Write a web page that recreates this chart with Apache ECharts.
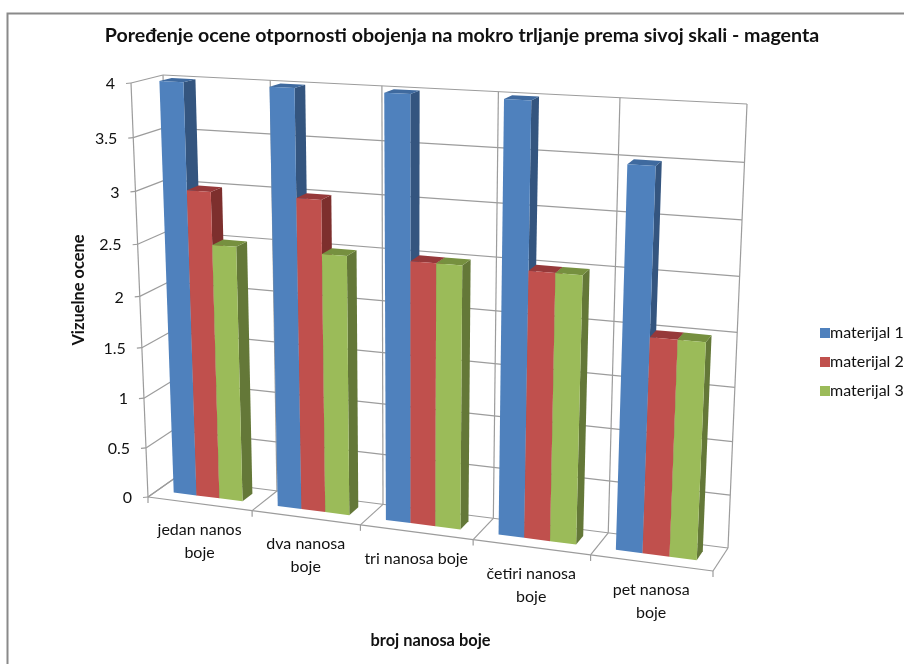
<!DOCTYPE html>
<html><head><meta charset="utf-8">
<script src="https://cdn.jsdelivr.net/npm/echarts@6/dist/echarts.min.js"></script>
<style>html,body{margin:0;padding:0;background:#fff}#c{width:904px;height:664px}</style></head>
<body><div id="c"></div>
<script>
const categories = ['jedan nanos\nboje','dva nanosa\nboje','tri nanosa boje','četiri nanosa\nboje','pet nanosa\nboje'];
const material1 = [4,4,4,4,3.5];
const material2 = [3,3,2.5,2.5,2];
const material3 = [2.5,2.5,2.5,2.5,2];
const valueTicks = [0,0.5,1,1.5,2,2.5,3,3.5,4];
const seriesNames = ['materijal 1','materijal 2','materijal 3'];

const FONT = 'Lato, "Open Sans", sans-serif';
const GRID = {left:148, top:83, width:565, height:414};
// perspective frame: corners of front and back planes [bottom-left,bottom-right,top-right,top-left]
const frontQuad = [[148,497],[713,571],[734,115],[131,83]];
const backQuad  = [[175,478],[728,548],[747,104],[163,75]];
const BAR_W0 = 0.35, BAR_W1 = 0.74, BAR_START = 0.16, BAR_STEP = 0.222;
const LINE = '#9c9c9c';
const palette = [
 {front:'#4f81bd',side:'#34557f',top:'#3f6a9f'},
 {front:'#c0504d',side:'#7d2f2d',top:'#96393a'},
 {front:'#9bbb59',side:'#647838',top:'#76903f'}];

function homography(q){
  const [x0,y0]=q[0],[x1,y1]=q[1],[x2,y2]=q[2],[x3,y3]=q[3];
  const dx1=x1-x2,dx2=x3-x2,sx=x0-x1+x2-x3,dy1=y1-y2,dy2=y3-y2,sy=y0-y1+y2-y3;
  const d=dx1*dy2-dx2*dy1;
  const g=(sx*dy2-dx2*sy)/d,h=(dx1*sy-sx*dy1)/d;
  const a=x1-x0+g*x1,b=x3-x0+h*x3,c=x0,e=y1-y0+g*y1,f=y3-y0+h*y3,i=y0;
  return (u,v)=>{const k=g*u+h*v+1;return [(a*u+b*v+c)/k,(e*u+f*v+i)/k];};
}
const Hf=homography(frontQuad),Hb=homography(backQuad);
function project(px,py,w){
  const u=(px-GRID.left)/GRID.width, v=(GRID.top+GRID.height-py)/GRID.height;
  const a=Hf(u,v),b=Hb(u,v);
  return [a[0]+(b[0]-a[0])*w,a[1]+(b[1]-a[1])*w];
}
const line=(p,q,width)=>({type:'line',shape:{x1:p[0],y1:p[1],x2:q[0],y2:q[1]},style:{stroke:LINE,lineWidth:width||1.2,fill:null},silent:true});
const poly=(pts,fill)=>({type:'polygon',shape:{points:pts},style:{fill:fill,stroke:null},silent:true});
const label=(x,y,text,align,vAlign)=>({type:'text',style:{x:x,y:y,text:text,fill:'#111',font:'16px '+FONT,align:align,verticalAlign:vAlign,lineHeight:23},silent:true});

function renderValueWall(params,api){
  const v=api.value(1);
  const L=api.coord([0,v]),R=api.coord([categories.length-1,v]);
  const band=api.size([1,0])[0];
  const xl=L[0]-band/2,xr=R[0]+band/2;
  const f=project(xl,L[1],0),b=project(xl,L[1],1),r=project(xr,L[1],1);
  return {type:'group',children:[
    line(f,b),line(b,r),
    line([f[0]-5,f[1]+0.5],f),
    label(f[0]-16,f[1]+1,String(v),'right','middle')
  ]};
}
function renderCatWall(params,api){
  const idx=api.value(0);
  const c=api.coord([idx,0]),t=api.coord([idx,4]);
  const band=api.size([1,0])[0];
  const kids=[];
  const edges=[c[0]-band/2];
  if(idx===categories.length-1) edges.push(c[0]+band/2);
  edges.forEach(x=>{
    const f=project(x,c[1],0),b=project(x,c[1],1),bt=project(x,t[1],1);
    kids.push(line(f,b),line(b,bt),line(f,[f[0],f[1]+6]));
    if(idx===0){const ft=project(x,t[1],0);kids.push(line(f,ft));}
  });
  const a=project(c[0]-band/2,c[1],0),e=project(c[0]+band/2,c[1],0);
  kids.push(line(a,e));
  const m=project(c[0],c[1],0);
  kids.push(label(m[0],m[1]+15,categories[idx],'center','top'));
  return {type:'group',children:kids};
}
function makeBar(si){
  return function(params,api){
    const idx=api.value(0),val=api.value(1);
    const c=api.coord([idx,val]),z=api.coord([idx,0]);
    const band=api.size([1,0])[0];
    const x0=c[0]-band/2+band*(BAR_START+BAR_STEP*si),x1=x0+band*BAR_STEP;
    const P=(x,y,w)=>project(x,y,w);
    const fbl=P(x0,z[1],BAR_W0),fbr=P(x1,z[1],BAR_W0),ftr=P(x1,c[1],BAR_W0),ftl=P(x0,c[1],BAR_W0);
    const bbr=P(x1,z[1],BAR_W1),btr=P(x1,c[1],BAR_W1),btl=P(x0,c[1],BAR_W1);
    const col=palette[si];
    return {type:'group',children:[
      poly([fbr,bbr,btr,ftr],col.side),
      poly([ftl,ftr,btr,btl],col.top),
      poly([fbl,fbr,ftr,ftl],col.front)
    ]};
  };
}
const barData=a=>a.map((v,i)=>[i,v]);
const option={
  animation:false,
  backgroundColor:'#fff',
  title:{text:'Poređenje ocene otpornosti obojenja na mokro trljanje prema sivoj skali - magenta',
    left:457,top:21,textAlign:'center',textStyle:{fontFamily:FONT,fontSize:19.6,fontWeight:'bold',color:'#111'}},
  legend:{orient:'vertical',left:815,top:320,itemWidth:10,itemHeight:10,itemGap:13,icon:'rect',
    data:seriesNames,textStyle:{fontFamily:FONT,fontSize:16,color:'#111',padding:[0,0,0,-5]}},
  grid:GRID,
  xAxis:{type:'category',data:categories,axisLine:{show:false},axisTick:{show:false},axisLabel:{show:false},splitLine:{show:false},
    name:'broj nanosa boje',nameLocation:'middle',nameGap:136,nameTextStyle:{fontFamily:FONT,fontSize:16.4,fontWeight:'bold',color:'#111'}},
  yAxis:{type:'value',min:0,max:4,interval:0.5,axisLine:{show:false},axisTick:{show:false},axisLabel:{show:false},splitLine:{show:false},
    name:'Vizuelne ocene',nameLocation:'middle',nameRotate:90,nameGap:61,nameTextStyle:{fontFamily:FONT,fontSize:16.4,fontWeight:'bold',color:'#111'}},
  graphic:[{type:'polyline',shape:{points:[[7.5,664],[7.5,13.5],[904,13.5]]},style:{stroke:'#8a8a8a',lineWidth:2,fill:null},silent:true}],
  series:[
    {type:'custom',name:'_v',silent:true,renderItem:renderValueWall,data:valueTicks.map(v=>[0,v]),encode:{x:0,y:1},z:1},
    {type:'custom',name:'_c',silent:true,renderItem:renderCatWall,data:categories.map((c,i)=>[i,0]),encode:{x:0,y:1},z:1},
    {type:'custom',name:seriesNames[0],itemStyle:{color:palette[0].front},renderItem:makeBar(0),data:barData(material1),encode:{x:0,y:1},z:2},
    {type:'custom',name:seriesNames[1],itemStyle:{color:palette[1].front},renderItem:makeBar(1),data:barData(material2),encode:{x:0,y:1},z:3},
    {type:'custom',name:seriesNames[2],itemStyle:{color:palette[2].front},renderItem:makeBar(2),data:barData(material3),encode:{x:0,y:1},z:4}
  ]
};
echarts.init(document.getElementById('c')).setOption(option);
</script></body></html>
